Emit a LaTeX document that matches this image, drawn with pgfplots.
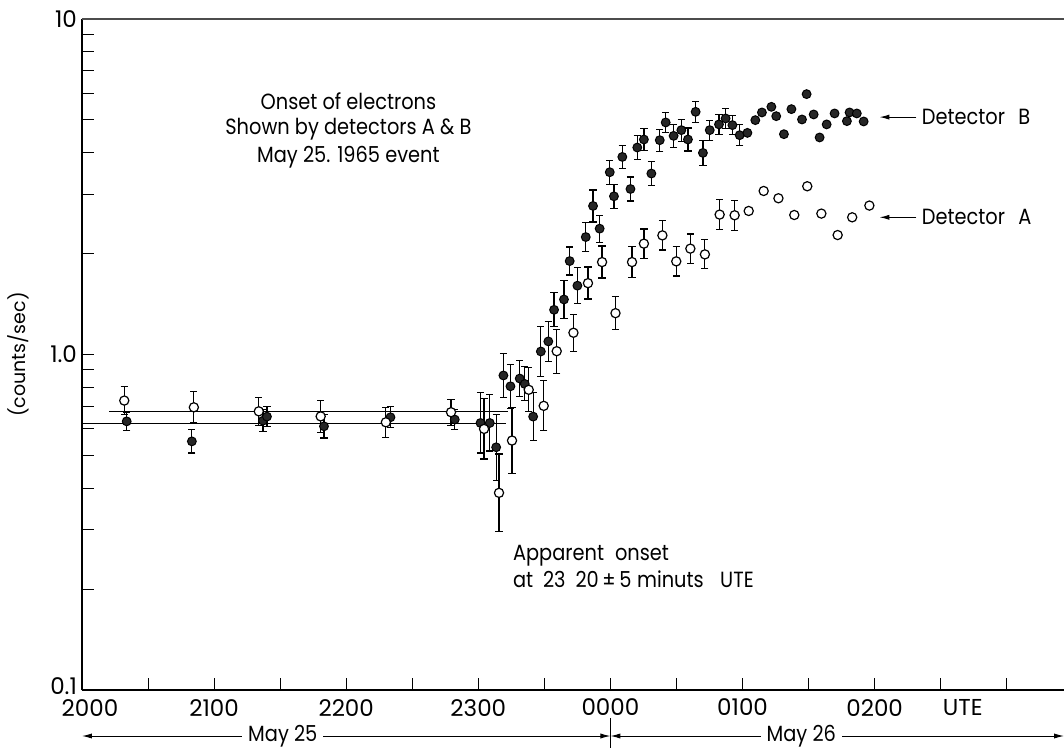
\documentclass[border=0pt]{standalone}
\usepackage{pgfplots}
\pgfplotsset{compat=1.18}
\usepackage{pgfplotstable}
\usepackage{fontspec}
\setmainfont{Poppins}
\newfontfamily\annfont{Poppins}[FakeStretch=0.88]
\usetikzlibrary{arrows.meta}

% time t in minutes after 2000 UT on May 25; counts/sec with error limits
\pgfplotstableread{
t v lo hi
20.3 0.632 0.594 0.673
49.9 0.551 0.509 0.597
82.2 0.635 0.589 0.685
84.0 0.653 0.610 0.700
109.9 0.611 0.564 0.661
140.1 0.650 0.605 0.699
169.3 0.640 0.597 0.685
181.0 0.625 0.509 0.769
185.2 0.625 0.516 0.758
188.1 0.529 0.422 0.664
191.4 0.866 0.744 1.007
194.6 0.804 0.692 0.935
198.8 0.848 0.749 0.960
201.1 0.817 0.728 0.919
204.9 0.653 0.554 0.770
208.4 1.021 0.860 1.212
211.8 1.094 0.953 1.255
214.4 1.359 1.210 1.528
218.9 1.459 1.281 1.663
221.5 1.899 1.725 2.091
225.0 1.604 1.417 1.815
228.8 2.239 2.027 2.474
232.1 2.772 2.483 3.093
235.1 2.372 2.162 2.603
239.7 3.494 3.217 3.794
241.6 2.962 2.728 3.217
245.4 3.881 3.585 4.201
249.1 3.114 2.869 3.383
252.2 4.140 3.820 4.487
255.2 4.374 4.056 4.718
258.6 3.463 3.188 3.760
262.4 4.353 4.036 4.695
265.1 4.916 4.580 5.277
268.7 4.484 4.149 4.846
272.2 4.664 4.323 5.029
275.2 4.374 4.042 4.734
278.7 5.288 4.920 5.684
282.0 3.990 3.661 4.347
285.1 4.664 4.353 4.995
289.3 4.851 4.536 5.184
292.3 5.053 4.708 5.424
295.4 4.827 4.521 5.152
298.7 4.505 4.193 4.843
}\detBbars

\pgfplotstableread{
t v
302.2 4.577
305.8 4.995
308.8 5.266
313.1 5.473
315.3 5.133
318.8 4.536
322.2 5.387
327.0 5.018
329.1 5.972
332.3 5.194
335.0 4.435
338.2 4.851
341.8 5.230
347.4 4.961
348.6 5.266
351.9 5.230
355.0 4.950
}\detBplain

\pgfplotstableread{
t v lo hi
19.2 0.729 0.662 0.803
50.8 0.696 0.626 0.774
80.3 0.677 0.615 0.746
108.4 0.654 0.586 0.730
138.0 0.628 0.566 0.696
167.6 0.673 0.615 0.736
182.6 0.600 0.488 0.738
189.4 0.387 0.296 0.505
195.3 0.554 0.441 0.695
202.9 0.785 0.675 0.913
209.7 0.703 0.592 0.835
215.6 1.023 0.880 1.190
223.2 1.161 1.022 1.318
229.8 1.632 1.463 1.823
236.2 1.886 1.690 2.105
242.3 1.328 1.186 1.488
249.8 1.886 1.696 2.098
255.2 2.140 1.934 2.367
263.6 2.265 2.048 2.507
269.9 1.895 1.713 2.097
276.3 2.068 1.869 2.288
282.9 1.988 1.800 2.197
289.6 2.612 2.361 2.890
296.4 2.600 2.345 2.883
}\detAbars

\pgfplotstableread{
t v
302.8 2.678
309.6 3.072
316.3 2.922
323.5 2.605
329.4 3.173
335.8 2.630
343.2 2.270
349.8 2.564
357.6 2.779
}\detAplain

\begin{document}
\begin{tikzpicture}[font=\annfont\fontsize{11}{13}\selectfont]
\begin{axis}[
  scale only axis,
  width=491pt, height=335.5pt,
  xmin=0, xmax=446,
  ymode=log, ymin=0.1, ymax=10,
  axis lines*=left,
  axis line style={line width=0.8pt},
  tick align=inside,
  major tick length=6pt, minor tick length=6pt,
  tick style={black, line width=0.5pt},
  xtick={0,60,120,180,240,300,360,420},
  xticklabels={\hspace{8pt}2000,2100,2200,2300,0000,0100,0200,{}},
  minor xtick={30,90,150,210,270,330,390},
  extra x ticks={400},
  extra x tick labels={UTE},
  extra x tick style={major tick length=0pt},
  ytick={0.1,1,10},
  yticklabels={\raisebox{4pt}{0.1},1.0,10},
  minor ytick={0.2,0.3,0.4,0.5,0.6,0.7,0.8,0.9,2,3,4,5,6,7,8,9},
  ticklabel style={font=\rmfamily\fontsize{11.5}{13}\selectfont},
  xticklabel style={yshift=-1pt},
  yticklabel style={xshift=1pt},
  clip=false,
  error bars/error bar style={line width=0.6pt, black},
  error bars/error mark options={rotate=90, mark size=1.8pt, line width=0.6pt, black},
]
% mean pre-event levels
\addplot[black, line width=0.6pt] coordinates {(12.3,0.677) (193.5,0.677)};
\addplot[black, line width=0.6pt] coordinates {(0,0.622) (192.7,0.622)};

% detector B (filled)
\addplot[only marks, mark=*, mark size=2.2pt,
  mark options={fill=black!85, draw=black, line width=0.5pt},
  error bars/.cd, y dir=both, y explicit]
  table[x=t, y=v, y error plus expr=\thisrow{hi}-\thisrow{v},
        y error minus expr=\thisrow{v}-\thisrow{lo}] {\detBbars};
\addplot[only marks, mark=*, mark size=2.2pt,
  mark options={fill=black!85, draw=black, line width=0.5pt}]
  table[x=t, y=v] {\detBplain};

% detector A (open)
\addplot[only marks, mark=*, mark size=2.3pt,
  mark options={fill=white, draw=black, line width=0.6pt},
  error bars/.cd, y dir=both, y explicit]
  table[x=t, y=v, y error plus expr=\thisrow{hi}-\thisrow{v},
        y error minus expr=\thisrow{v}-\thisrow{lo}] {\detAbars};
\addplot[only marks, mark=*, mark size=2.3pt,
  mark options={fill=white, draw=black, line width=0.6pt}]
  table[x=t, y=v] {\detAplain};

% top frame line
\draw[black!70, line width=0.6pt] (axis cs:0,10) -- (axis cs:446,10);

% annotations
\node at (axis cs:121,5.70) {Onset of electrons};
\node at (axis cs:121,4.70) {Shown by detectors A \& B};
\node at (axis cs:121,3.88) {May 25. 1965 event};
\node[anchor=west, inner xsep=0pt] at (axis cs:195.6,0.252) {Apparent\hspace{0.5em}onset};
\node[anchor=west, inner xsep=0pt] at (axis cs:195.6,0.2144)
  {at\hspace{0.45em}23\hspace{0.45em}20\,±\,5\hspace{0.25em}minuts\hspace{0.75em}UTE};

\draw[-{Latex[length=5pt,width=2.6pt]}, line width=0.5pt] (axis cs:379,5.10) -- (axis cs:362.2,5.10);
\node[anchor=west, inner xsep=0pt] at (axis cs:381.3,5.10) {Detector\hspace{0.6em}B};
\draw[-{Latex[length=5pt,width=2.6pt]}, line width=0.5pt] (axis cs:379,2.564) -- (axis cs:362.2,2.564);
\node[anchor=west, inner xsep=0pt] at (axis cs:381.3,2.564) {Detector\hspace{0.6em}A};

\node[rotate=90, font=\rmfamily\fontsize{9.5}{11}\selectfont] at (rel axis cs:-0.0652,0.5) {(counts/sec)};

% date bars below the time axis
\draw[{Latex[length=5pt,width=2.6pt]}-{Latex[length=5pt,width=2.6pt]}, line width=0.5pt]
  ([yshift=-23pt]axis cs:0,0.1) -- ([yshift=-23pt]axis cs:240,0.1);
\draw[{Latex[length=5pt,width=2.6pt]}-{Latex[length=5pt,width=2.6pt]}, line width=0.5pt]
  ([yshift=-23pt]axis cs:240,0.1) -- ([yshift=-23pt]axis cs:446,0.1);
\draw[line width=0.5pt] ([yshift=-14pt]axis cs:240,0.1) -- ([yshift=-29pt]axis cs:240,0.1);
\node[fill=white, inner xsep=3pt, inner ysep=1pt] at ([yshift=-23pt]axis cs:91.2,0.1) {May 25};
\node[fill=white, inner xsep=3pt, inner ysep=1pt] at ([yshift=-23pt]axis cs:326.7,0.1) {May 26};
\end{axis}
\pgfresetboundingbox
\path[use as bounding box]
  ([shift={(-41pt,-29.5pt)}]current axis.south west)
  rectangle ([shift={(0pt,9.5pt)}]current axis.north east);
\end{tikzpicture}
\end{document}
